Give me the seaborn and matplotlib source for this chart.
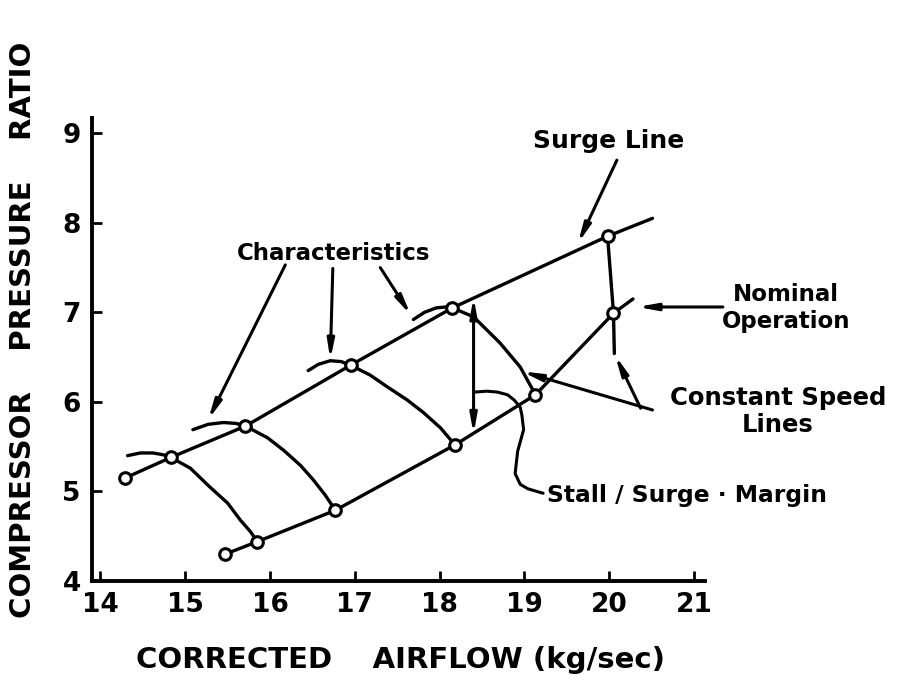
import matplotlib as mpl
mpl.use('Agg')
import matplotlib.pyplot as plt
import seaborn as sns

# surge line points (corrected airflow kg/sec, pressure ratio)
surge_x = [14.29, 14.83, 15.71, 16.95, 18.15, 19.98, 20.51]
surge_y = [5.15, 5.38, 5.73, 6.41, 7.05, 7.85, 8.05]
surge_marked = 6  # last point is the line end, no circle

# operating line
oper_x = [15.47, 15.85, 16.77, 18.18, 19.13, 20.05, 20.28]
oper_y = [4.30, 4.44, 4.79, 5.52, 6.08, 6.99, 7.15]
oper_marked = 6

# constant speed lines (characteristics), low to high speed
speed_lines = {
    'n1': ([14.32, 14.47, 14.62, 14.74, 14.83, 15.06, 15.29, 15.50, 15.65, 15.77, 15.85],
           [5.40, 5.43, 5.43, 5.41, 5.38, 5.26, 5.05, 4.87, 4.68, 4.55, 4.44]),
    'n2': ([15.09, 15.27, 15.45, 15.60, 15.71, 15.97, 16.16, 16.36, 16.51, 16.65, 16.77],
           [5.69, 5.75, 5.77, 5.76, 5.73, 5.60, 5.46, 5.29, 5.13, 4.96, 4.79]),
    'n3': ([16.45, 16.57, 16.71, 16.84, 16.95, 17.18, 17.38, 17.62, 17.81, 18.01, 18.18],
           [6.35, 6.42, 6.46, 6.45, 6.41, 6.30, 6.17, 6.02, 5.88, 5.71, 5.52]),
    'n4': ([17.69, 17.82, 17.96, 18.07, 18.15, 18.40, 18.71, 18.95, 19.13],
           [6.92, 7.00, 7.05, 7.06, 7.05, 6.95, 6.66, 6.39, 6.08]),
    'n5': ([19.98, 20.05, 20.06],
           [7.85, 6.99, 6.54]),
}

# stall / surge margin
margin_x = 18.40
margin_top = 7.17
margin_bot = 5.64

# leader line from the margin label
lead_x = [19.22, 19.04, 18.95, 18.89, 18.92, 18.99, 18.97, 18.95, 18.88, 18.80, 18.68, 18.56, 18.41]
lead_y = [4.98, 5.03, 5.08, 5.20, 5.45, 5.69, 5.85, 5.94, 6.02, 6.08, 6.11, 6.12, 6.11]

x_ticks = [14, 15, 16, 17, 18, 19, 20, 21]
y_ticks = [4, 5, 6, 7, 8, 9]

sns.set_style('ticks')
plt.rcParams['font.family'] = ['DejaVu Sans']
plt.rcParams['font.weight'] = 'bold'
plt.rcParams['text.color'] = 'black'
plt.rcParams['xtick.color'] = 'black'
plt.rcParams['ytick.color'] = 'black'
plt.rcParams['axes.edgecolor'] = 'black'

fig = plt.figure(figsize=(8.99, 6.89), dpi=100)
ax = fig.add_axes([0.1023, 0.1567, 0.682, 0.672])

lw = 2.4
sns.lineplot(x=surge_x, y=surge_y, sort=False, estimator=None, color='black', lw=lw, ax=ax)
sns.lineplot(x=oper_x, y=oper_y, sort=False, estimator=None, color='black', lw=lw, ax=ax)
for name, (xs, ys) in speed_lines.items():
    sns.lineplot(x=xs, y=ys, sort=False, estimator=None, color='black', lw=lw, ax=ax)

pts_x = surge_x[:surge_marked] + oper_x[:oper_marked]
pts_y = surge_y[:surge_marked] + oper_y[:oper_marked]
sns.scatterplot(x=pts_x, y=pts_y, s=70, marker='o', facecolor='white',
                edgecolor='black', linewidth=2.2, zorder=5, ax=ax)

# margin arrow (both ends)
ax.annotate('', xy=(margin_x, margin_top), xytext=(margin_x, margin_bot),
            arrowprops=dict(arrowstyle='<|-|>,head_length=1.1,head_width=0.2',
                            color='black', lw=2.2, shrinkA=0, shrinkB=0))

sns.lineplot(x=lead_x, y=lead_y, sort=False, estimator=None, color='black', lw=2.2, ax=ax)

arrow_kw = dict(arrowstyle='-|>,head_length=1.1,head_width=0.2', color='black',
                lw=2.2, shrinkA=0, shrinkB=0)

# labels and pointers
ax.text(19.99, 8.91, 'Surge Line', ha='center', va='center', fontsize=18, fontweight='bold')
ax.annotate('', xy=(19.63, 7.77), xytext=(20.09, 8.70), arrowprops=arrow_kw)

ax.text(16.75, 7.66, 'Characteristics', ha='center', va='center', fontsize=16.5, fontweight='bold')
ax.annotate('', xy=(15.27, 5.80), xytext=(16.18, 7.53), arrowprops=arrow_kw)
ax.annotate('', xy=(16.71, 6.47), xytext=(16.74, 7.49), arrowprops=arrow_kw)
ax.annotate('', xy=(17.66, 6.97), xytext=(17.30, 7.50), arrowprops=arrow_kw)

ax.text(22.08, 7.05, 'Nominal\nOperation', ha='center', va='center', fontsize=16.5,
        fontweight='bold', linespacing=1.2, clip_on=False)
ax.annotate('', xy=(20.33, 7.06), xytext=(21.34, 7.06), arrowprops=arrow_kw,
            annotation_clip=False)

ax.text(21.99, 5.89, 'Constant Speed\nLines', ha='center', va='center', fontsize=17.5,
        fontweight='bold', linespacing=1.15, clip_on=False)
ax.annotate('', xy=(18.97, 6.34), xytext=(20.51, 5.91), arrowprops=arrow_kw,
            annotation_clip=False)
ax.annotate('', xy=(20.07, 6.52), xytext=(20.37, 5.93), arrowprops=arrow_kw,
            annotation_clip=False)

ax.text(19.27, 4.96, 'Stall / Surge · Margin', ha='left', va='center', fontsize=16.8,
        fontweight='bold', clip_on=False)

ax.set_xlim(13.9, 21.13)
ax.set_ylim(4, 9.17)
ax.set_xticks(x_ticks)
ax.set_yticks(y_ticks)
ax.tick_params(direction='in', length=7, width=2, labelsize=19, pad=8)
for lab in ax.get_xticklabels() + ax.get_yticklabels():
    lab.set_fontweight('bold')
sns.despine(ax=ax)
for side in ['left', 'bottom']:
    ax.spines[side].set_linewidth(2.8)

fig.text(0.445, 0.042, 'CORRECTED    AIRFLOW (kg/sec)', ha='center', va='center',
         fontsize=21, fontweight='bold')
fig.text(0.026, 0.521, 'COMPRESSOR    PRESSURE    RATIO', ha='center', va='center',
         rotation=90, fontsize=21, fontweight='bold')

fig.savefig('out.png', dpi=100)
